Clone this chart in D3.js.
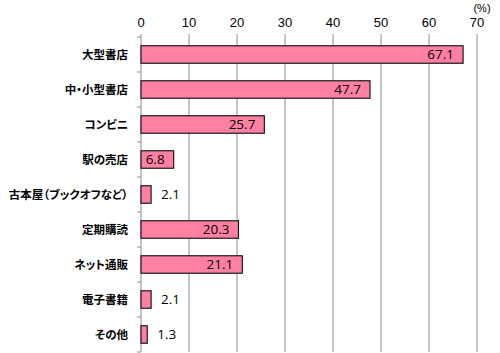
<!DOCTYPE html>
<html>
<head>
    <meta charset="utf-8">
    <script src="https://d3js.org/d3.v7.min.js"></script>
    <style>
        body { margin: 0; background: #fff; }
        .cat { font-family: "Noto Sans CJK JP", sans-serif; font-size: 11.5px; font-weight: bold; fill: #000; font-feature-settings: "palt"; }
        .num { font-family: "Open Sans", "Liberation Sans", sans-serif; font-size: 13px; fill: #000; }
        .tick { font-family: "Liberation Sans", sans-serif; font-size: 13px; fill: #000; }
    </style>
</head>
<body>
<div id="chart"></div>
<script>
    var categories = ["大型書店", "中・小型書店", "コンビニ", "駅の売店", "古本屋（ブックオフなど）", "定期購読", "ネット通販", "電子書籍", "その他"];
    var values = [67.1, 47.7, 25.7, 6.8, 2.1, 20.3, 21.1, 2.1, 1.3];
    var xTicks = [0, 10, 20, 30, 40, 50, 60, 70];

    var width = 500, height = 353;
    var plotLeft = 141, plotRight = 477, plotTop = 37, plotBottom = 352;

    var svg = d3.select("#chart").append("svg")
        .attr("width", width)
        .attr("height", height);

    var x = d3.scaleLinear().domain([0, 70]).range([plotLeft, plotRight]);
    var y = d3.scaleBand().domain(categories).range([plotTop, plotBottom])
        .paddingInner(0.5).paddingOuter(0.25);

    // vertical gridlines
    svg.append("g").selectAll("line")
        .data(xTicks.slice(1))
        .enter().append("line")
        .attr("x1", d => x(d)).attr("x2", d => x(d))
        .attr("y1", plotTop - 3).attr("y2", plotBottom)
        .attr("stroke", "#8c8c8c").attr("stroke-width", 1);

    // top tick labels
    svg.append("g").selectAll("text")
        .data(xTicks)
        .enter().append("text")
        .attr("class", "tick")
        .attr("x", d => x(d))
        .attr("y", 27)
        .attr("text-anchor", "middle")
        .text(d => d);

    svg.append("text")
        .attr("class", "tick")
        .attr("x", 482)
        .attr("y", 12)
        .attr("text-anchor", "middle")
        .style("font-size", "11px")
        .text("(%)");

    // left axis line and ticks between categories
    svg.append("line")
        .attr("x1", plotLeft).attr("x2", plotLeft)
        .attr("y1", plotTop - 3).attr("y2", plotBottom)
        .attr("stroke", "#8c8c8c");
    var step = y.step();
    var boundaries = d3.range(categories.length + 1).map(i => plotTop + i * step);
    svg.append("g").selectAll("line")
        .data(boundaries)
        .enter().append("line")
        .attr("x1", plotLeft - 4).attr("x2", plotLeft)
        .attr("y1", d => d).attr("y2", d => d)
        .attr("stroke", "#8c8c8c");

    // bars
    svg.append("g").selectAll("rect")
        .data(values)
        .enter().append("rect")
        .attr("x", x(0))
        .attr("y", (d, i) => y(categories[i]))
        .attr("width", d => x(d) - x(0))
        .attr("height", y.bandwidth())
        .attr("fill", "#ff80a2")
        .attr("stroke", "#1a1a1a")
        .attr("stroke-width", 1.2);

    // value labels
    svg.append("g").selectAll("text")
        .data(values)
        .enter().append("text")
        .attr("class", "num")
        .style("font-size", "13.5px")
        .attr("x", d => d >= 5 ? x(d) - 9 : x(d) + 10)
        .attr("y", (d, i) => y(categories[i]) + y.bandwidth() / 2)
        .attr("dy", "0.36em")
        .attr("text-anchor", d => d >= 5 ? "end" : "start")
        .text(d => d.toFixed(1));

    // category labels
    svg.append("g").selectAll("text")
        .data(categories)
        .enter().append("text")
        .attr("class", "cat")
        .attr("x", plotLeft - 13)
        .attr("y", d => y(d) + y.bandwidth() / 2)
        .attr("dy", "0.35em")
        .attr("text-anchor", "end")
        .text(d => d);
</script>
</body>
</html>
